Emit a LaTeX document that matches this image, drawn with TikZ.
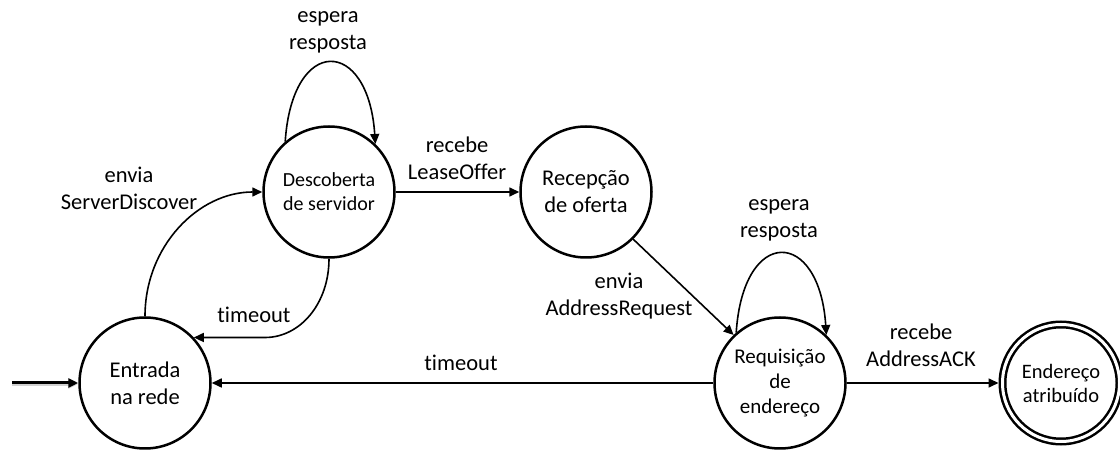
\documentclass[tikz,border=0pt]{standalone}
\usepackage{fontspec}
\setmainfont{Carlito}[Ligatures=NoCommon]
\usetikzlibrary{arrows.meta}
\begin{document}
\begin{tikzpicture}[x=1pt,y=1pt,
  state/.style={circle,draw,line width=2.5pt,minimum size=131pt,inner sep=0pt,align=center},
  bigtxt/.style={font=\fontsize{22.5}{27}\selectfont},
  conn/.style={line width=1.6pt,-{Triangle[length=10pt,width=9pt]}},
  lbl/.style={font=\fontsize{22.5}{27}\selectfont,align=center,inner sep=0pt}]
\useasboundingbox (0,0) rectangle (1120,450);
\node[state,bigtxt] (E) at (145,67) {Entrada\\na rede};
\node[state,font=\fontsize{20}{24}\selectfont] (D) at (329,258) {Descoberta\\de servidor};
\node[state,bigtxt] (R) at (586,258) {Recepção\\de oferta};
\node[state,font=\fontsize{21}{25}\selectfont] (Q) at (780,67) {Requisição\\de\\endereço};
\node[circle,draw,line width=2.5pt,double,double distance=3pt,minimum size=117pt,outer sep=4pt,inner sep=0pt,align=center,font=\fontsize{20.5}{24}\selectfont] (A) at (1061,67) {Endereço\\atribuído};
\coordinate (init) at (12,67);
\draw[conn,line width=3pt,preaction={draw=black!18,line width=4.5pt,transform canvas={yshift=-1pt}}] (init) -- (E.west);
\draw[conn] (E.north) .. controls +(0,70) and +(-64,0) .. (D.west);
\node[lbl] (l1) at (129,262) {envia\\ServerDiscover};
\draw[conn] (D.131) .. controls +(7,107) and +(-7,107) .. (D.46);
\node[lbl] (l2) at (328,418) {espera\\resposta};
\draw[conn] (D.east) -- (R.west);
\node[lbl] (l3) at (457,292) {recebe\\LeaseOffer};
\draw[conn] (D.south) .. controls +(0,-45) and +(35,0) .. (265,112.5) -- (E.43);
\node[lbl] (l4) at (254,135) {timeout};
\draw[conn] (R.-45) -- (Q.134);
\node[lbl] (l5) at (619,154) {envia\\AddressRequest};
\draw[conn] (Q.131) .. controls +(7,107) and +(-7,107) .. (Q.46);
\node[lbl] (l6) at (779,230) {espera\\resposta};
\draw[conn] (Q.west) -- (E.east);
\node[lbl] (l7) at (461,87) {timeout};
\draw[conn] (Q.east) -- (A.west);
\node[lbl] (l8) at (921,105) {recebe\\AddressACK};
\end{tikzpicture}
\end{document}
